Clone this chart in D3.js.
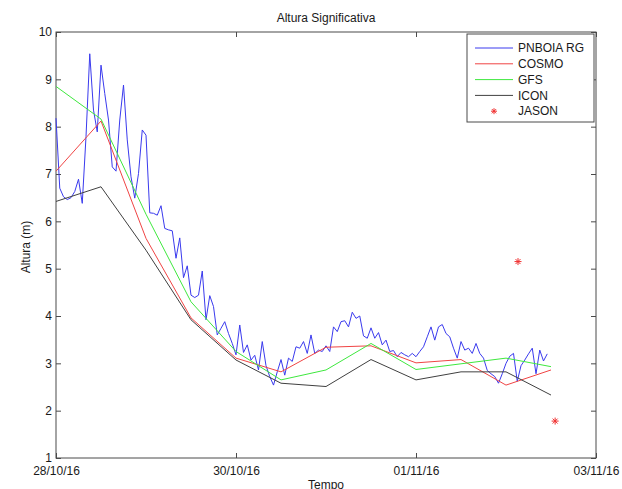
<!DOCTYPE html>
<html>
<head>
<meta charset="utf-8">
<script src="https://cdn.jsdelivr.net/npm/d3@7"></script>
<style>
  html, body { margin: 0; padding: 0; background: #fff; }
  svg { display: block; font-family: "Liberation Sans", Arial, sans-serif; }
</style>
</head>
<body>
<svg id="chart" width="622" height="489"></svg>
<script>
// ---- data ----
const title = "Altura Significativa";
const xLabel = "Tempo";
const yLabel = "Altura (m)";
const startDate = new Date(2016, 9, 28, 0, 0);
const endDate = new Date(2016, 10, 3, 0, 0);
const xTickDates = [new Date(2016, 9, 28), new Date(2016, 9, 30), new Date(2016, 10, 1), new Date(2016, 10, 3)];
const yTicks = [1, 2, 3, 4, 5, 6, 7, 8, 9, 10];

// PNBOIA RG buoy, hourly from 28/10/16 00:00
const buoyValues = [
  8.18, 6.70, 6.52, 6.46, 6.50, 6.63, 6.89, 6.38, 7.79, 9.54,
  8.35, 7.89, 9.30, 8.70, 8.14, 7.15, 7.06, 8.14, 8.88, 7.72,
  6.94, 6.49, 7.01, 7.93, 7.82, 6.18, 6.17, 6.13, 6.33, 5.85,
  5.82, 5.80, 5.22, 5.65, 4.81, 5.06, 4.44, 4.39, 4.44, 4.95,
  3.92, 4.43, 4.20, 3.60, 3.74, 3.88, 3.63, 3.42, 3.18, 3.81,
  3.23, 3.39, 3.07, 3.17, 2.86, 3.46, 2.95, 2.72, 2.54, 2.82,
  3.08, 2.75, 3.11, 3.04, 3.35, 3.32, 3.46, 3.21, 3.60, 3.21,
  3.28, 3.25, 3.37, 3.25, 3.77, 3.67, 3.88, 3.90, 3.77, 4.08,
  3.95, 4.00, 3.58, 3.53, 3.75, 3.53, 3.65, 3.39, 3.49, 3.25,
  3.27, 3.14, 3.23, 3.18, 3.14, 3.21, 3.14, 3.25, 3.35, 3.56,
  3.77, 3.49, 3.77, 3.82, 3.63, 3.56, 3.32, 3.11, 3.46, 3.28,
  3.32, 3.21, 3.42, 3.21, 3.11, 2.85, 2.78, 2.72, 2.58, 2.78,
  3.00, 3.15, 3.21, 2.62, 2.95, 3.07, 3.20, 3.32, 2.78, 3.28,
  3.05, 3.20
];

// models, every 12 h from 28/10/16 00:00
const modelHours = [0, 12, 24, 36, 48, 60, 72, 84, 96, 108, 120, 132];
const cosmoValues = [7.06, 8.12, 5.64, 3.96, 3.11, 2.82, 3.34, 3.37, 3.01, 3.08, 2.54, 2.86];
const gfsValues   = [8.85, 8.16, 6.15, 4.30, 3.25, 2.65, 2.86, 3.42, 2.87, 2.99, 3.11, 2.93];
const iconValues  = [6.42, 6.73, 5.39, 3.92, 3.07, 2.58, 2.51, 3.08, 2.65, 2.82, 2.82, 2.33];

// JASON altimeter passes (hours from start)
const jasonHours = [123.2, 133.1];
const jasonValues = [5.15, 1.78];

const seriesNames = ["PNBOIA RG", "COSMO", "GFS", "ICON", "JASON"];
const seriesColors = ["#3a3aee", "#f04444", "#3ee83e", "#404040", "#f03030"];

// ---- layout ----
const svg = d3.select("#chart");
const L = 56, R = 596, T = 32, B = 458;
const hourToDate = h => new Date(startDate.getTime() + h * 3600 * 1000);

const x = d3.scaleTime().domain([startDate, endDate]).range([L, R]);
const y = d3.scaleLinear().domain([1, 10]).range([B, T]);

const axisColor = "#4a4a4a";
const textColor = "#1a1a1a";

// plot frame
svg.append("rect").attr("x", L).attr("y", T).attr("width", R - L).attr("height", B - T)
  .attr("fill", "#fff").attr("stroke", axisColor).attr("stroke-width", 1);

const fmt = d3.timeFormat("%d/%m/%y");
function styleAxis(g, showText) {
  g.select(".domain").remove();
  g.selectAll(".tick line").attr("stroke", axisColor);
  g.selectAll(".tick text").attr("fill", textColor).style("font-size", "12px")
    .style("font-family", "'Liberation Sans', Arial, sans-serif");
  if (!showText) g.selectAll(".tick text").remove();
}

svg.append("g").attr("transform", `translate(0,${B})`)
  .call(d3.axisBottom(x).tickValues(xTickDates).tickFormat(fmt).tickSizeInner(-5).tickSizeOuter(0).tickPadding(8))
  .call(g => styleAxis(g, true));
svg.append("g").attr("transform", `translate(0,${T})`)
  .call(d3.axisTop(x).tickValues(xTickDates).tickSizeInner(-5).tickSizeOuter(0))
  .call(g => styleAxis(g, false));
svg.append("g").attr("transform", `translate(${L},0)`)
  .call(d3.axisLeft(y).tickValues(yTicks).tickFormat(d3.format("d")).tickSizeInner(-5).tickSizeOuter(0).tickPadding(4))
  .call(g => styleAxis(g, true));
svg.append("g").attr("transform", `translate(${R},0)`)
  .call(d3.axisRight(y).tickValues(yTicks).tickSizeInner(-5).tickSizeOuter(0))
  .call(g => styleAxis(g, false));

// ---- series ----
const line = d3.line().x(d => x(d[0])).y(d => y(d[1]));
const buoyData = buoyValues.map((v, i) => [hourToDate(i), v]);
const modelData = vals => modelHours.map((h, i) => [hourToDate(h), vals[i]]);

const plot = svg.append("g");
plot.append("path").datum(buoyData).attr("d", line).attr("fill", "none")
  .attr("stroke", seriesColors[0]).attr("stroke-width", 1);
plot.append("path").datum(modelData(cosmoValues)).attr("d", line).attr("fill", "none")
  .attr("stroke", seriesColors[1]).attr("stroke-width", 1);
plot.append("path").datum(modelData(gfsValues)).attr("d", line).attr("fill", "none")
  .attr("stroke", seriesColors[2]).attr("stroke-width", 1);
plot.append("path").datum(modelData(iconValues)).attr("d", line).attr("fill", "none")
  .attr("stroke", seriesColors[3]).attr("stroke-width", 1);

function asterisk(cx, cy, r) {
  const d = r * 0.7071;
  return `M${cx - r},${cy}L${cx + r},${cy}M${cx},${cy - r}L${cx},${cy + r}` +
         `M${cx - d},${cy - d}L${cx + d},${cy + d}M${cx - d},${cy + d}L${cx + d},${cy - d}`;
}
jasonHours.forEach((h, i) => {
  plot.append("path").attr("d", asterisk(x(hourToDate(h)), y(jasonValues[i]), 3.5))
    .attr("stroke", seriesColors[4]).attr("stroke-width", 1).attr("fill", "none");
});

// ---- title & axis labels ----
svg.append("text").attr("x", (L + R) / 2).attr("y", 22).attr("text-anchor", "middle")
  .attr("fill", textColor).style("font-size", "12px").text(title);
svg.append("text").attr("x", (L + R) / 2).attr("y", 489).attr("text-anchor", "middle")
  .attr("fill", textColor).style("font-size", "12px").text(xLabel);
svg.append("text").attr("transform", `translate(30,${(T + B) / 2 + 2}) rotate(-90)`)
  .attr("text-anchor", "middle").attr("fill", textColor).style("font-size", "12px").text(yLabel);

// ---- legend ----
const lg = svg.append("g");
lg.append("rect").attr("x", 467).attr("y", 34).attr("width", 127).attr("height", 88)
  .attr("fill", "#fff").attr("stroke", axisColor).attr("stroke-width", 1);
seriesNames.forEach((name, i) => {
  const ly = 48 + i * 15.8;
  if (i < 4) {
    lg.append("line").attr("x1", 475).attr("x2", 513).attr("y1", ly).attr("y2", ly)
      .attr("stroke", seriesColors[i]).attr("stroke-width", 1);
  } else {
    lg.append("path").attr("d", asterisk(494, ly, 3)).attr("stroke", seriesColors[i])
      .attr("stroke-width", 1).attr("fill", "none");
  }
  lg.append("text").attr("x", 518).attr("y", ly).attr("dy", "0.35em")
    .attr("fill", textColor).style("font-size", "12px").text(name);
});
</script>
</body>
</html>
